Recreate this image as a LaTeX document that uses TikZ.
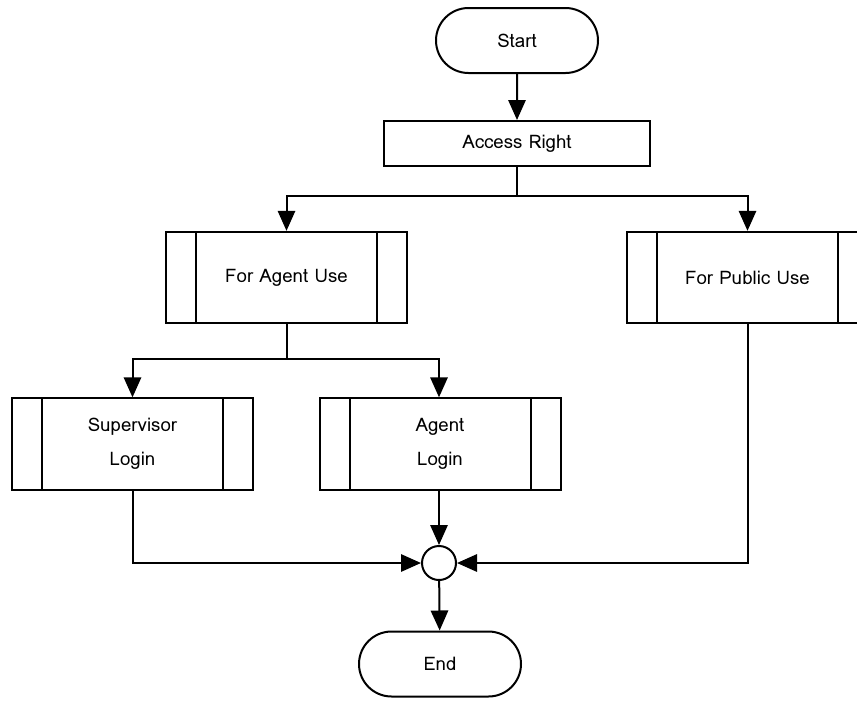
\documentclass[tikz,border=0pt]{standalone}
\usepackage{fontspec}
\setmainfont{Loma}
\usetikzlibrary{arrows.meta,shapes.misc}
\tikzset{
  >={Triangle[length=15pt,width=13pt]},
  every picture/.style={line width=1.5pt,font=\fontsize{14}{25.5}\selectfont},
  bx/.style={draw,fill=white,rectangle,inner sep=0pt,align=center},
  term/.style={bx,rounded rectangle,minimum width=121.5pt,minimum height=48.75pt},
  proc/.style={bx,minimum width=200pt,minimum height=33.75pt},
  sub/.style={bx,minimum width=180.75pt,minimum height=68.5pt,
    path picture={
      \draw ([xshift=22.5pt]path picture bounding box.north west) -- ([xshift=22.5pt]path picture bounding box.south west);
      \draw ([xshift=-22.5pt]path picture bounding box.north east) -- ([xshift=-22.5pt]path picture bounding box.south east);
    }},
  jnc/.style={draw,fill=white,circle,inner sep=0pt,minimum size=25.5pt},
  arr/.style={->},
}
\begin{document}
\begin{tikzpicture}[x=0.75pt,y=0.75pt]
  \useasboundingbox (0,0) rectangle (857,-700);
  \node[term] (st) at (517,-40.5) {Start};
  \node[proc] (ar) at (517,-143.5) {Access Right};
  \node[sub] (ag) at (286.5,-277.5) {For Agent Use};
  \node[sub] (pu) at (747.5,-277.5) {For Public Use};
  \node[sub] (sv) at (132.5,-444) {Supervisor\\Login};
  \node[sub] (al) at (440,-444) {Agent\\Login};
  \node[jnc] (jn) at (439,-563) {};
  \node[term] (en) at (440,-664) {End};
  \draw[arr] (st) -- (ar);
  \draw[arr] (ar.south) -- ++(0,-29) -| (ag.north);
  \draw[arr] (ar.south) -- ++(0,-29) -| (pu.north);
  \draw[arr] (ag.south) -- ++(0,-35) -| (sv.north);
  \draw[arr] (ag.south) -- ++(0,-35) -| (al.north -| jn);
  \draw[arr] (al.south -| jn) -- (jn.north);
  \draw[arr] (sv.south) |- (jn.west);
  \draw[arr] (pu.south) |- (jn.east);
  \draw[arr] (jn) -- (en);
\end{tikzpicture}
\end{document}
